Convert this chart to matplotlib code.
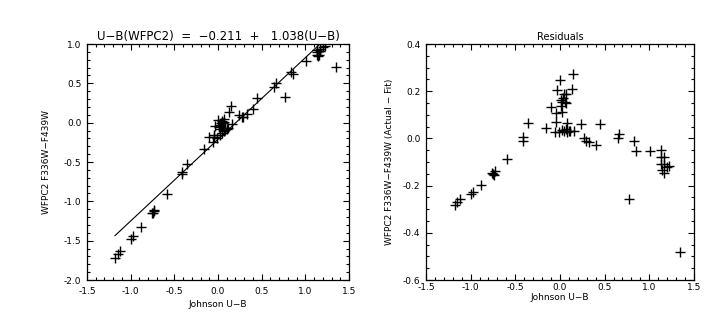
import matplotlib.pyplot as plt
from matplotlib.ticker import MultipleLocator, FormatStrFormatter

# Johnson U-B (x), WFPC2 F336W-F439W (y) and residuals
johnson_ub = [-1.18, -1.15, -1.12, -1.00, -0.97, -0.88, -0.76, -0.75, -0.73, -0.735,
              -0.59, -0.41, -0.41, -0.36, -0.16, -0.105, 0.0, 0.146, -0.038, 0.131,
              0.045, 0.07, 0.025, 0.064, 0.007, 0.014, -0.049, 0.019, -0.042, 0.075,
              0.24, 0.45, -0.057, -0.012, 0.045, 0.082, 0.157, 0.064, 0.02, 0.11,
              0.27, 0.289, 0.326, 0.402, 0.665, 0.645, 0.834, 0.853, 1.003, 1.134,
              1.13, 1.17, 1.13, 1.17, 1.20, 1.22, 1.14, 1.16, 0.77, 1.349,
              0.035, 0.055, 0.10]
wfpc2_ub = [-1.720, -1.675, -1.629, -1.484, -1.444, -1.320, -1.145, -1.142, -1.109, -1.129,
            -0.909, -0.631, -0.649, -0.521, -0.334, -0.186, 0.035, 0.213, -0.044, 0.134,
            0.025, 0.051, -0.032, 0.003, -0.041, -0.061, -0.155, -0.081, -0.185, -0.066,
            0.098, 0.319, -0.242, -0.197, -0.133, -0.098, -0.017, -0.106, -0.155, -0.067,
            0.069, 0.077, 0.112, 0.176, 0.499, 0.459, 0.643, 0.620, 0.790, 0.930,
            0.895, 0.940, 0.865, 0.905, 0.960, 0.975, 0.850, 0.860, 0.330, 0.709,
            -0.005, 0.001, -0.077]
residual = [-0.284, -0.270, -0.255, -0.235, -0.226, -0.196, -0.145, -0.152, -0.140, -0.155,
            -0.086, 0.006, -0.012, 0.064, 0.043, 0.134, 0.246, 0.272, 0.206, 0.209,
            0.189, 0.189, 0.153, 0.148, 0.163, 0.136, 0.107, 0.110, 0.070, 0.067,
            0.060, 0.063, 0.028, 0.027, 0.031, 0.028, 0.031, 0.039, 0.035, 0.030,
            0.000, -0.012, -0.015, -0.030, 0.020, 0.000, -0.012, -0.054, -0.054, -0.050,
            -0.080, -0.080, -0.110, -0.110, -0.120, -0.115, -0.135, -0.145, -0.258, -0.480,
            0.170, 0.155, 0.030]

# fitted line  U-B(WFPC2) = -0.211 + 1.038(U-B)
fit_x = [-1.18, 1.17]
fit_y = [-1.436, 1.003]


def idl_axes(ax, pad):
    ax.tick_params(which='both', direction='in', top=True, right=True,
                   labelsize=6.5, width=0.8)
    ax.tick_params(axis='x', pad=pad)
    ax.tick_params(axis='y', pad=4)
    ax.tick_params(which='major', length=4)
    ax.tick_params(which='minor', length=2)
    for s in ax.spines.values():
        s.set_linewidth(0.9)
    ax.xaxis.set_major_locator(MultipleLocator(0.5))
    ax.xaxis.set_minor_locator(MultipleLocator(0.1))
    ax.xaxis.set_major_formatter(FormatStrFormatter('%.1f'))
    ax.yaxis.set_major_formatter(FormatStrFormatter('%.1f'))
    ax.set_xlim(-1.5, 1.5)


plt.rcParams['axes.unicode_minus'] = True
fig = plt.figure(figsize=(7.21, 3.27), dpi=100)

# left: colour transformation
ax1 = fig.add_axes([0.1207, 0.1437, 0.3634, 0.7217])
idl_axes(ax1, 5)
ax1.plot(fit_x, fit_y, '-', color='k', linewidth=0.8)
ax1.plot(johnson_ub, wfpc2_ub, '+', color='k', markersize=6.5, mew=1.0)
ax1.set_ylim(-2.0, 1.0)
ax1.yaxis.set_major_locator(MultipleLocator(0.5))
ax1.yaxis.set_minor_locator(MultipleLocator(0.1))
ax1.set_title('U\u2212B(WFPC2)  =  \u22120.211  +   1.038(U\u2212B)', fontsize=8.5, pad=3)
ax1.set_xlabel('Johnson U\u2212B', fontsize=6.5, labelpad=3)
ax1.set_ylabel('WFPC2 F336W\u2212F439W', fontsize=6.5, labelpad=9)

# right: residuals
ax2 = fig.add_axes([0.5908, 0.1437, 0.3717, 0.7217])
idl_axes(ax2, 2)
ax2.plot(johnson_ub, residual, '+', color='k', markersize=6.5, mew=1.0)
ax2.set_ylim(-0.6, 0.4)
ax2.yaxis.set_major_locator(MultipleLocator(0.2))
ax2.yaxis.set_minor_locator(MultipleLocator(0.05))
ax2.set_title('Residuals', fontsize=7, pad=3)
ax2.set_xlabel('Johnson U\u2212B', fontsize=6.5, labelpad=1)
ax2.set_ylabel('WFPC2 F336W\u2212F439W (Actual \u2212 Fit)', fontsize=6.5, labelpad=6)

fig.savefig('out.png', dpi=100)
